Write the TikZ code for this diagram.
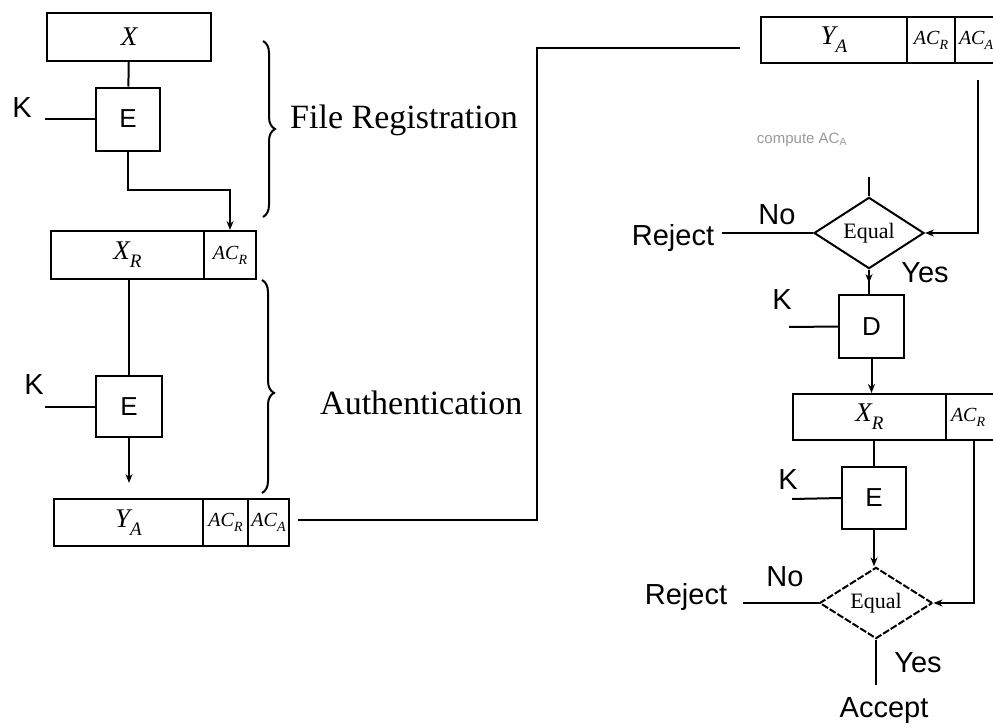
\documentclass[tikz,border=0pt]{standalone}
\usepackage{fontspec}
\setmainfont{Liberation Serif}
\setsansfont{Liberation Sans}
\usetikzlibrary{shapes.geometric,decorations.pathreplacing,decorations.markings,arrows.meta}
\newcommand\bigsub[2]{\textit{#1}\raisebox{-0.3em}{\fontsize{19}{19}\selectfont\textit{#2}}}
\newcommand\smallsub[2]{\textit{#1}\raisebox{-0.25em}{\fontsize{14}{14}\selectfont\textit{#2}}}
\begin{document}
\begin{tikzpicture}[x=1pt,y=-1pt,
  cell/.style={draw,line width=2pt,inner sep=0pt,font=\itshape\fontsize{27}{30}\selectfont},
  acell/.style={cell,font=\itshape\fontsize{20}{23}\selectfont},
  proc/.style={draw,line width=2pt,inner sep=0pt,font=\sffamily\fontsize{26}{29}\selectfont},
  dec/.style={draw,diamond,line width=2pt,inner sep=0pt,font=\fontsize{22}{24}\selectfont},
  lbl/.style={inner sep=0pt,font=\sffamily\fontsize{29}{32}\selectfont},
  big/.style={inner sep=0pt,font=\fontsize{34}{38}\selectfont,anchor=west},
  conn/.style={line width=2pt},
  arr/.style={conn,-{Stealth[length=9pt,width=7pt]}},
  midarrow/.style={postaction={decorate},decoration={markings,mark=at position 0.55 with {\arrow{Stealth[length=9pt,width=7pt]}}}},
  brc/.style={line width=2pt,decorate,decoration={brace,amplitude=12pt,aspect=#1}}]
\useasboundingbox (0,0) rectangle (993,728);
\clip (0,0) rectangle (993,728);

% ---------- left column ----------
\node[cell,minimum width=164pt,minimum height=48pt] (X) at (129,37) {X};
\node[proc,minimum width=64pt,minimum height=63pt] (E1) at (128,119) {E};
\node[lbl] (K1) at (22,108) {K};
\coordinate (k1) at (45,119);

\node[cell,minimum width=153pt,minimum height=48pt] (XR1) at (127.5,255) {\bigsub{X}{R}};
\node[acell,minimum width=52pt,minimum height=48pt] (ACR1) at (230,255) {\smallsub{AC}{R}};

\node[proc,minimum width=66pt,minimum height=61pt] (E2) at (129,406.5) {E};
\node[lbl] (K2) at (34,385) {K};
\coordinate (k2) at (45,406.5);

\node[cell,minimum width=149pt,minimum height=47pt] (YA1) at (128.5,522.5) {\bigsub{Y}{A}};
\node[acell,minimum width=45pt,minimum height=47pt] (ACR1b) at (225.5,522.5) {\smallsub{AC}{R}};
\node[acell,minimum width=41pt,minimum height=47pt] (ACA1) at (268.5,522.5) {\smallsub{AC}{A}};

\draw[brc=0.5] (263,41) -- (263,217);
\node[big] (FR) at (290,120) {File Registration};
\draw[brc=0.53] (262,280) -- (262,493);
\node[big] (AU) at (320,403) {Authentication};

\draw[conn] (X) -- (E1);
\draw[conn] (k1) -- (E1.west);
\draw[arr] (E1.south) -- ++(0,38) -| (ACR1.north);
\draw[conn] (XR1.south -| E2.north) -- (E2.north);
\draw[conn] (k2) -- (E2.west);
\draw[arr,shorten >=15pt] (E2.south) -- (E2.south |- YA1.north);

% ---------- link ----------
\coordinate (yaout) at (298,520);
\coordinate (ya1) at (537,520);
\coordinate (ya2) at (537,48);
\coordinate (yain) at (740,48);
\draw[conn] (yaout) -- (ya1) -- (ya2) -- (yain);

% ---------- right column ----------
\node[cell,minimum width=146pt,minimum height=46pt] (YA2) at (834,40) {\bigsub{Y}{A}};
\node[acell,minimum width=48pt,minimum height=46pt] (ACR2) at (931,40) {\smallsub{AC}{R}};
\node[acell,minimum width=48pt,minimum height=46pt,text width=40pt,align=left] (ACA2) at (979,40) {\smallsub{AC}{A}};

\node[inner sep=0pt,text=black!40,font=\sffamily\fontsize{15}{17}\selectfont] (cmp) at (802,140) {compute AC\textsubscript{A}};

\node[dec,minimum width=110pt,minimum height=69pt] (D1) at (869,233) {Equal};
\coordinate (t1) at (869,177);
\coordinate (c1) at (978,80);
\coordinate (c2) at (978,233);
\coordinate (rj1) at (722,233);
\node[lbl] (R1) at (673,238) {Reject};
\node[lbl] (N1) at (777,215) {No};
\node[lbl] (Y1) at (925,273) {Yes};

\node[proc,minimum width=65pt,minimum height=63pt] (Dbox) at (871.5,326.5) {D};
\node[lbl] (K3) at (782,300) {K};
\coordinate (k3) at (789,327);

\node[cell,minimum width=153pt,minimum height=46pt] (XR2) at (869.5,417) {\bigsub{X}{R}};
\node[acell,minimum width=54pt,minimum height=46pt,text width=44pt,align=left] (ACR3) at (973,417) {\smallsub{AC}{R}};

\node[proc,minimum width=64pt,minimum height=62pt] (E3) at (874,498) {E};
\node[lbl] (K4) at (788,480) {K};
\coordinate (k4) at (792,499);

\node[dec,dash pattern=on 7pt off 2pt,minimum width=113pt,minimum height=70pt] (D2) at (876,603) {Equal};
\coordinate (rj2) at (743,603);
\coordinate (c3) at (974,603);
\node[lbl] (R2) at (686,597) {Reject};
\node[lbl] (N2) at (785,577) {No};
\node[lbl] (Y2) at (918,663) {Yes};
\node[lbl] (AC) at (884,711) {Accept};

\draw[conn] (t1) -- (D1.north);
\draw[arr] (c1) -- (c2) -- (D1.east);
\draw[conn] (D1.west) -- (rj1);
\draw[conn,midarrow] (D1.south) -- (D1.south |- Dbox.north);
\draw[conn] (k3) -- (Dbox.west);
\draw[arr] (Dbox.south) -- (Dbox.south |- XR2.north);
\draw[conn] (XR2.south -| E3.north) -- (E3.north);
\draw[conn] (k4) -- (E3.west);
\draw[arr] (E3.south) -- (E3.south |- D2.north);
\draw[arr] (c3 |- ACR3.south) -- (c3) -- (D2.east);
\draw[conn] (D2.west) -- (rj2);
\draw[conn] (D2.south) -- ++(0,45);
\end{tikzpicture}
\end{document}
